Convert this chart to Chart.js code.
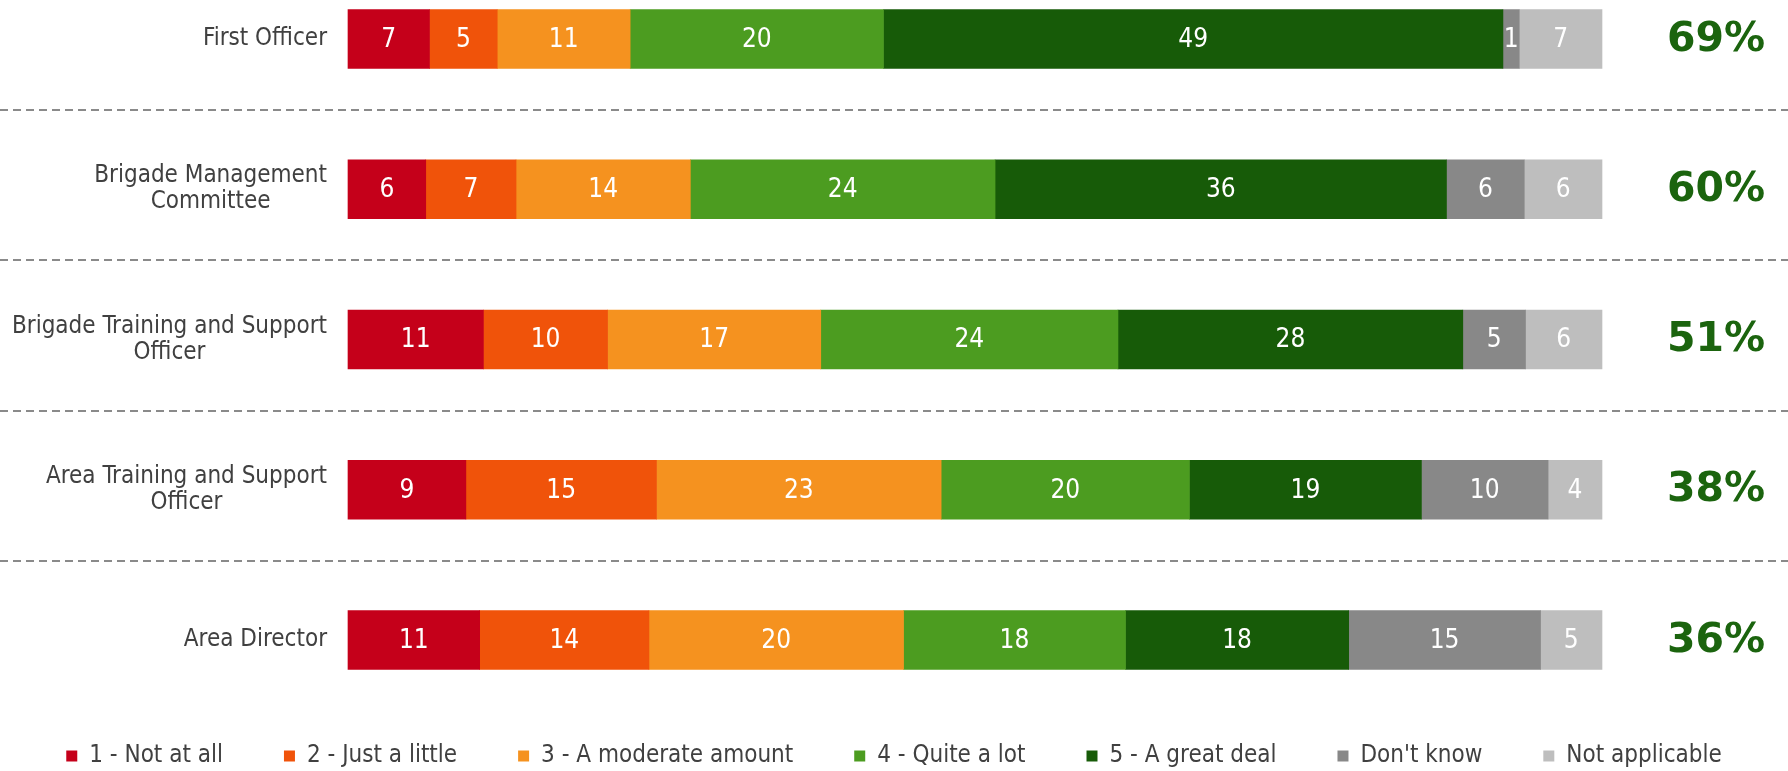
<!DOCTYPE html>
<html><head><meta charset="utf-8">
<script src="https://cdn.jsdelivr.net/npm/chart.js@4.4.1/dist/chart.umd.min.js"></script>
<style>
html,body{margin:0;padding:0;overflow:hidden;background:#fff}
#wrap{position:relative;width:1788px;height:778px}
</style>
</head><body>
<div id="wrap"><canvas id="c"></canvas></div>
<script>
const categories = [["First Officer"],["Brigade Management","Committee"],["Brigade Training and Support","Officer"],["Area Training and Support","Officer"],["Area Director"]];
const seriesNames = ["1 - Not at all","2 - Just a little","3 - A moderate amount","4 - Quite a lot","5 - A great deal","Don't know","Not applicable"];
const notAtAll      = [6.5, 6.2, 10.8, 9.4, 10.5];
const justALittle   = [5.4, 7.2, 9.9, 15.2, 13.5];
const moderate      = [10.6, 13.9, 17.0, 22.7, 20.3];
const quiteALot     = [20.2, 24.3, 23.7, 19.8, 17.7];
const greatDeal     = [49.4, 36.0, 27.5, 18.5, 17.8];
const dontKnow      = [1.3, 6.2, 5.0, 10.1, 15.3];
const notApplicable = [6.6, 6.2, 6.1, 4.3, 4.9];
const topTwoLabels  = ["69%","60%","51%","38%","36%"];

const seriesValues = [notAtAll, justALittle, moderate, quiteALot, greatDeal, dontKnow, notApplicable];
const colors = ['#C5001A','#F0530A','#F5921F','#4C9C20','#175B08','#888888','#BEBEBE'];

const FONT = "'DejaVu Sans Condensed', 'DejaVu Sans', sans-serif";

const decorPlugin = {
  id: 'decor',
  beforeDatasetsDraw(chart) {
    const ctx = chart.ctx, ys = chart.scales.y;
    ctx.save();
    ctx.strokeStyle = '#8A8A8A';
    ctx.lineWidth = 2;
    ctx.setLineDash([8,5]);
    for (let i = 0; i < categories.length - 1; i++) {
      const y = Math.round((ys.getPixelForValue(i) + ys.getPixelForValue(i+1)) / 2 - 4);
      ctx.beginPath(); ctx.moveTo(0, y); ctx.lineTo(chart.width, y); ctx.stroke();
    }
    ctx.restore();
    // category labels
    ctx.save();
    ctx.font = "24px " + FONT;
    ctx.fillStyle = '#404040';
    ctx.textAlign = 'center';
    ctx.textBaseline = 'middle';
    const right = chart.chartArea.left - 21;
    const lh = 26;
    categories.forEach((lines, i) => {
      const yc = ys.getPixelForValue(i);
      const w = Math.max(...lines.map(l => ctx.measureText(l).width));
      const cx = right - w / 2;
      lines.forEach((l, k) => {
        ctx.fillText(l, cx, yc + (k - (lines.length - 1) / 2) * lh);
      });
    });
    ctx.restore();
  },
  afterDatasetsDraw(chart) {
    const ctx = chart.ctx, ys = chart.scales.y;
    ctx.save();
    ctx.font = "26px " + FONT;
    ctx.fillStyle = '#FFFFFF';
    ctx.textAlign = 'center';
    ctx.textBaseline = 'middle';
    chart.data.datasets.forEach((ds, di) => {
      const meta = chart.getDatasetMeta(di);
      meta.data.forEach((bar, i) => {
        const v = ds.data[i];
        ctx.fillText(String(Math.round(v)), (bar.x + bar.base) / 2, bar.y + 1);
      });
    });
    ctx.font = "bold 41px 'DejaVu Sans', sans-serif";
    ctx.fillStyle = '#1B640E';
    topTwoLabels.forEach((t, i) => {
      ctx.fillText(t, chart.chartArea.right + 114, ys.getPixelForValue(i) + 1);
    });
    ctx.restore();
  }
};

new Chart(document.getElementById('c'), {
  type: 'bar',
  data: {
    labels: categories,
    datasets: seriesNames.map((name, k) => ({
      label: name,
      data: seriesValues[k],
      backgroundColor: colors[k],
      borderWidth: 0,
      barThickness: 59,
      clip: false
    }))
  },
  options: {
    indexAxis: 'y',
    responsive: true,
    maintainAspectRatio: false,
    animation: false,
    layout: { padding: { left: 0, right: 0, top: 39, bottom: 0 } },
    scales: {
      x: {
        stacked: true, min: 0, max: 100,
        grid: { display: false }, border: { display: false },
        ticks: { display: false },
        afterFit(s) { s.height = 43; }
      },
      y: {
        stacked: true, offset: false,
        grid: { display: false }, border: { display: false },
        ticks: { display: false },
        afterFit(s) { s.width = 348; }
      },
      yR: {
        type: 'category', position: 'right', offset: false,
        grid: { display: false }, border: { display: false },
        ticks: { display: false },
        afterFit(s) { s.width = 186; }
      }
    },
    plugins: {
      legend: {
        position: 'bottom',
        labels: {
          boxWidth: 11, boxHeight: 11, padding: 61,
          color: '#404040',
          font: { family: FONT, size: 24 }
        }
      },
      tooltip: { enabled: false }
    }
  },
  plugins: [decorPlugin]
});
</script>
</body></html>
